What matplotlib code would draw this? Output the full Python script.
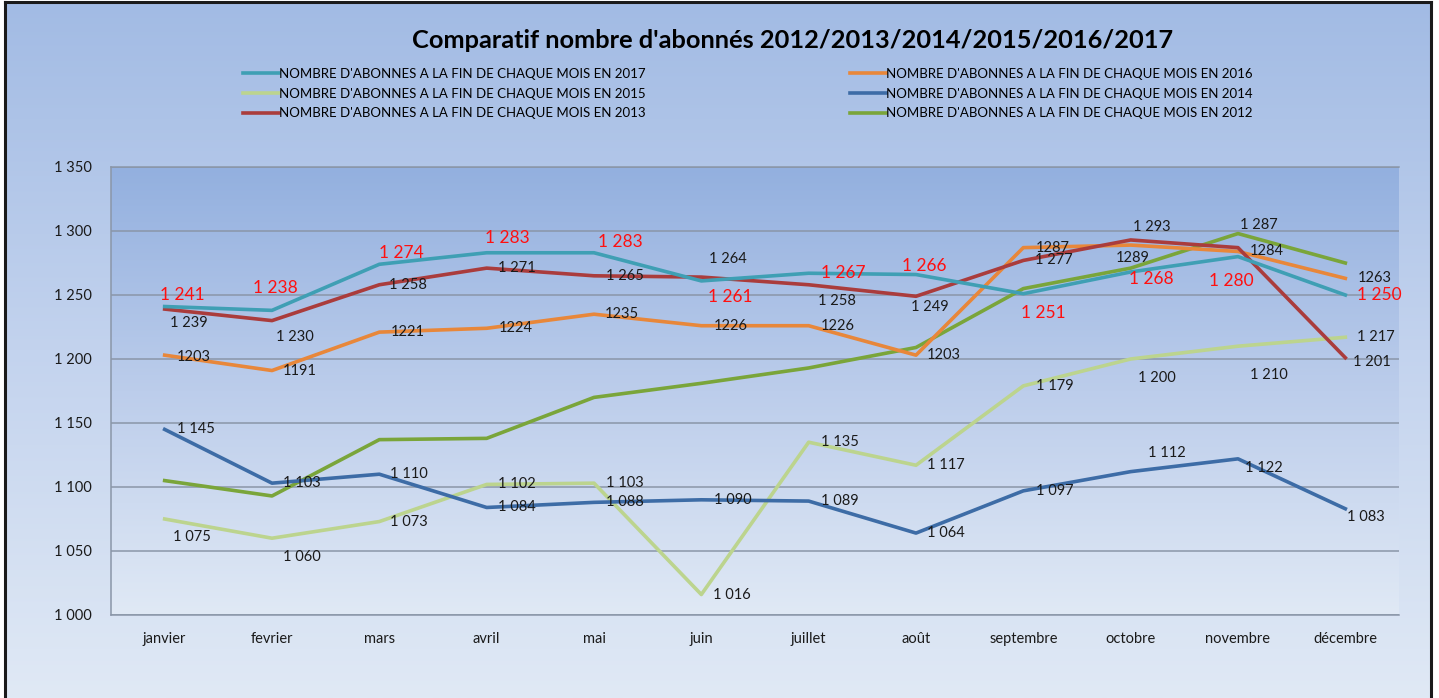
import matplotlib.pyplot as plt
from matplotlib.lines import Line2D
from matplotlib.colors import LinearSegmentedColormap
import numpy as np

plt.rcParams['font.family'] = ['Lato', 'DejaVu Sans']

# Data
months = ['janvier', 'fevrier', 'mars', 'avril', 'mai', 'juin', 'juillet',
          'août', 'septembre', 'octobre', 'novembre', 'décembre']
y2017 = [1241, 1238, 1274, 1283, 1283, 1261, 1267, 1266, 1251, 1268, 1280, 1250]
y2016 = [1203, 1191, 1221, 1224, 1235, 1226, 1226, 1203, 1287, 1289, 1284, 1263]
y2015 = [1075, 1060, 1073, 1102, 1103, 1016, 1135, 1117, 1179, 1200, 1210, 1217]
y2014 = [1145, 1103, 1110, 1084, 1088, 1090, 1089, 1064, 1097, 1112, 1122, 1083]
y2013 = [1239, 1230, 1258, 1271, 1265, 1264, 1258, 1249, 1277, 1293, 1287, 1201]
y2012 = [1105, 1093, 1137, 1138, 1170, 1181, 1193, 1209, 1255, 1271, 1298, 1275]

label_tpl = "NOMBRE D'ABONNES A LA FIN DE CHAQUE MOIS EN {}"
title = "Comparatif nombre d'abonnés 2012/2013/2014/2015/2016/2017"

# colours
c2017 = '#3f9fb4'
c2016 = '#e8873a'
c2015 = '#bcd48e'
c2014 = '#3d6ca6'
c2013 = '#aa3c3c'
c2012 = '#7aa53a'

# label offsets in pixels (dx, dy), dy positive = down
off2017 = [(18, -12), (3, -22), (22, -11), (21, -15), (26, -11), (29, 16),
           (35, 0), (8, -9), (20, 19), (21, 7), (-7, 24), (34, 0)]
off2013 = [(24, 14), (23, 16), (29, 0), (30, 0), (31, 0), (27, -18),
           (28, 16), (14, 11), (31, 0), (21, -13), (21, -23), (27, 4)]
off2016 = [(29, 2), (28, 0), (28, 0), (29, 0), (28, 0), (29, 0),
           (29, 0), (28, 0), (29, 0), (2, 13), (29, 0), (29, 0)]
off2015 = [(27, 18), (30, 19), (30, 0), (30, 0), (31, 0), (31, 0),
           (31, 0), (30, 0), (31, 0), (26, 19), (31, 29), (31, 0)]
off2014 = [(31, 0), (30, 0), (30, 0), (30, 0), (31, 0), (31, 0),
           (31, 0), (30, 0), (31, 0), (36, -19), (26, 9), (21, 8)]


def fmt_space(v):
    return '{:,}'.format(v).replace(',', ' ')


W, H = 1439, 698
fig = plt.figure(figsize=(W / 100, H / 100), dpi=100)
fig.patch.set_facecolor('white')

# figure background gradient (dark on top)
grad = np.linspace(0, 1, 256).reshape(-1, 1)
bg = fig.add_axes([5 / W, 0, (1431 - 5) / W, 1 - 2 / H], zorder=-10)
cm_bg = LinearSegmentedColormap.from_list('bg', ['#a2bbe4', '#c3d3ee', '#e0e9f5'])
bg.imshow(grad, aspect='auto', cmap=cm_bg, extent=[0, 1, 0, 1], origin='upper')
bg.set_xticks([])
bg.set_yticks([])
for s in bg.spines.values():
    s.set_color('#1a1a1a')
    s.set_linewidth(2.2)
bg.spines['bottom'].set_visible(False)

ax = fig.add_axes([111 / W, 1 - 615 / H, (1399 - 111) / W, (615 - 167) / H])
x = np.arange(len(months))

cm_plot = LinearSegmentedColormap.from_list('pl', ['#93b0df', '#bccdeb', '#e0e9f5'])
ax.imshow(grad, aspect='auto', cmap=cm_plot, origin='upper',
          extent=[-0.5, len(months) - 0.5, 1000, 1350], zorder=0)
ax.set_xlim(-0.5, len(months) - 0.5)
ax.set_ylim(1000, 1350)

ax.set_yticks(np.arange(1000, 1351, 50))
ax.set_yticklabels([fmt_space(v) for v in np.arange(1000, 1351, 50)])
ax.set_xticks(x)
ax.set_xticklabels(months)
ax.tick_params(axis='both', length=0, labelsize=10.5, colors='#1a1a1a')
ax.tick_params(axis='y', pad=14)
ax.tick_params(axis='x', pad=12)
ax.grid(axis='y', color='#8a96a8', linewidth=1.1, zorder=1)
ax.spines['right'].set_visible(False)
for s in ['left', 'bottom', 'top']:
    ax.spines[s].set_color('#8a96a8')
    ax.spines[s].set_linewidth(1.1)

lw = 2.6
for vals, col in [(y2012, c2012), (y2015, c2015), (y2014, c2014),
                  (y2016, c2016), (y2013, c2013), (y2017, c2017)]:
    ax.plot(x, vals, color=col, linewidth=lw, zorder=3)


def put_labels(vals, offs, fmt, color, size):
    for i, v in enumerate(vals):
        dx, dy = offs[i]
        ax.annotate(fmt(v), (x[i], v), xytext=(dx * 0.72, -dy * 0.72),
                    textcoords='offset points', ha='center', va='center',
                    color=color, fontsize=size, zorder=5)


put_labels(y2016, off2016, str, '#1a1a1a', 10.5)
put_labels(y2015, off2015, fmt_space, '#1a1a1a', 10.5)
put_labels(y2014, off2014, fmt_space, '#1a1a1a', 10.5)
put_labels(y2013, off2013, fmt_space, '#1a1a1a', 10.5)
put_labels(y2017, off2017, fmt_space, '#ff1010', 12.5)

fig.text(793 / W, 1 - 41 / H, title, ha='center', va='center',
         fontsize=18.3, fontweight='bold', color='black')

left_items = [(c2017, 2017), (c2015, 2015), (c2013, 2013)]
right_items = [(c2016, 2016), (c2014, 2014), (c2012, 2012)]
for items, x0 in [(left_items, 243), (right_items, 850)]:
    handles = [Line2D([], [], color=c, linewidth=2.6) for c, _ in items]
    labels = [label_tpl.format(y) for _, y in items]
    fig.legend(handles, labels, loc='upper left',
               bbox_to_anchor=(x0 / W, 1 - 68 / H), frameon=False,
               fontsize=9.5, handlelength=2.7, handletextpad=0.0,
               labelspacing=0.58, borderaxespad=0, borderpad=0)

fig.savefig('out.png', dpi=100)
